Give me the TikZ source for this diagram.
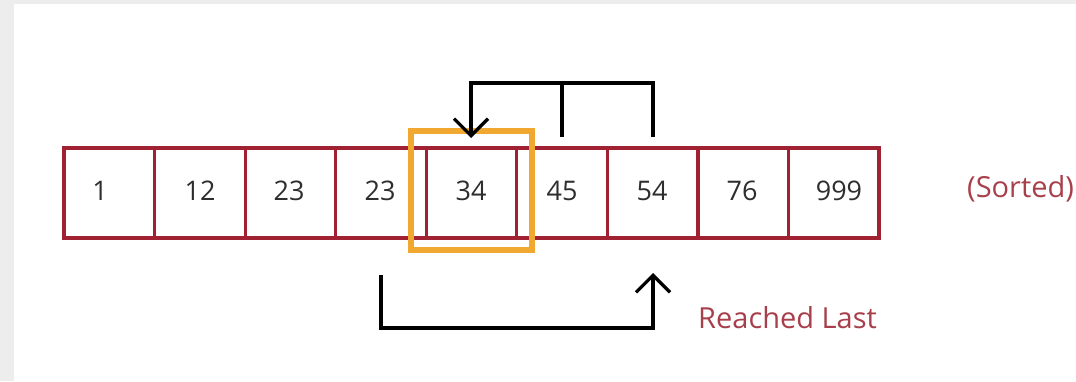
\documentclass[tikz,border=0pt]{standalone}
\usepackage{fontspec}
\setmainfont{Open Sans}
\usetikzlibrary{arrows.meta}
\definecolor{cellred}{HTML}{A02232}
\definecolor{lblred}{HTML}{A8404C}
\definecolor{hlorange}{HTML}{F0A830}
\definecolor{numgray}{HTML}{2E2E2E}
\tikzset{
  cell/.style={draw=cellred, line width=3.2pt, minimum width=90.56pt, minimum height=90pt, inner sep=0pt, outer sep=0pt},
  num/.style={text=numgray, font=\fontsize{27}{30}\selectfont, inner sep=0pt},
  lbl/.style={text=lblred, font=\fontsize{29}{32}\selectfont, inner sep=0pt, anchor=west},
  hlbox/.style={draw=hlorange, line width=6pt, minimum width=121pt, minimum height=119pt, inner sep=0pt},
  conn/.style={draw=black, line width=3.2pt},
  barb/.style={-{Straight Barb[length=17pt,width=34pt]}}
}
\begin{document}
\begin{tikzpicture}[x=1pt,y=-1pt]
\useasboundingbox (0,0) rectangle (1076,381);
\fill[gray!14] (0,0) rectangle (1076,381);
\fill[white] (14,4) rectangle (1076,381);
% cells
\foreach \i in {1,...,9} {
  \node[cell] (c\i) at ({64+90.56*(\i-0.5)},193) {};
}
% numbers
\node[num] (n1) at (100,191) {1};
\node[num] (n2) at (200,191) {12};
\node[num] (n3) at (289,191) {23};
\node[num] (n4) at (380,191) {23};
\node[num] (n5) at (471,191) {34};
\node[num] (n6) at (562,191) {45};
\node[num] (n7) at (652,191) {54};
\node[num] (n8) at (742,191) {76};
\node[num] (n9) at (839,191) {999};
% labels
\node[lbl] (sorted) at (967,189) {(Sorted)};
\node[lbl] (reached) at (698,318) {Reached Last};
% highlight
\node[hlbox] (hl) at (471.5,190.5) {};
% top connector
\coordinate (t7) at (653,137);
\coordinate (t6) at (562,137);
\coordinate (t5) at (471,138);
\coordinate (topy) at (0,83);
\draw[conn,barb] (t7) -- (t7 |- topy) -- (t5 |- topy) -- (t5);
\draw[conn] (t6) -- (t6 |- topy);
% bottom connector
\coordinate (b4) at (381,275);
\coordinate (b7) at (653,273);
\coordinate (boty) at (0,328);
\draw[conn,barb] (b4) -- (b4 |- boty) -- (b7 |- boty) -- (b7);
\end{tikzpicture}
\end{document}
